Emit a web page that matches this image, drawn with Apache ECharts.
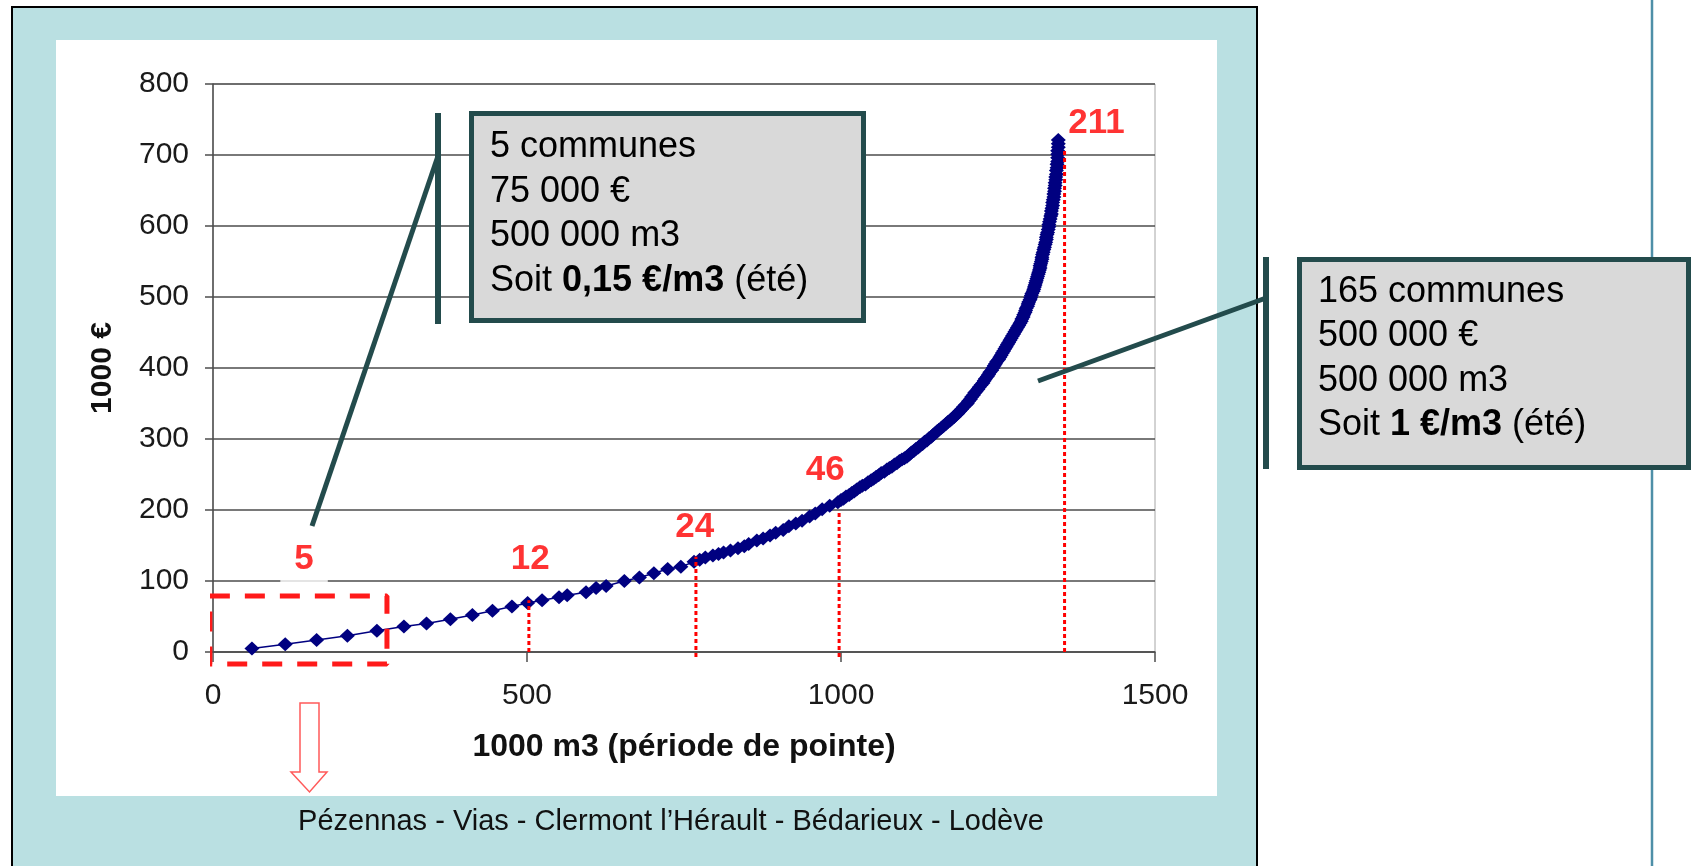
<!DOCTYPE html>
<html>
<head>
<meta charset="utf-8">
<title>Coût cumulé par commune</title>
<script src="https://cdn.jsdelivr.net/npm/echarts@6/dist/echarts.min.js"></script>
<style>
html, body { margin: 0; padding: 0; background: #fff; }
#chart { width: 1691px; height: 866px; }
</style>
</head>
<body>
<div id="chart"></div>
<script>
// cumulative volume (1000 m3, peak period) and cumulative cost (1000 €), one point per commune
var volume = [
  62, 115, 165, 214, 261, 304, 340, 378, 413, 445,
  476, 501, 524, 551, 564, 594, 610, 626, 655, 679,
  702, 724, 745, 766,
  775, 784, 796, 805, 813, 824, 836, 846, 853, 866,
  876, 887, 896, 908, 917, 928, 938, 950, 959, 970,
  982, 995,
  1000, 1004, 1008, 1013, 1017, 1021, 1025, 1030, 1034, 1039,
  1043, 1048, 1052, 1056, 1060, 1064, 1069, 1073, 1077, 1081,
  1085, 1089, 1093, 1097, 1101, 1105, 1109, 1112, 1116, 1119,
  1123, 1126, 1130, 1133, 1137, 1140, 1144, 1147, 1150, 1153,
  1156, 1160, 1163, 1167, 1170, 1174, 1177, 1180, 1183, 1186,
  1189, 1192, 1195, 1198, 1201, 1203, 1206, 1208, 1211, 1213,
  1215, 1218, 1220, 1223, 1226, 1228, 1230, 1233, 1235, 1237,
  1240, 1242, 1244, 1246, 1248, 1251, 1253, 1255, 1257, 1259,
  1261, 1263, 1265, 1267, 1269, 1271, 1273, 1275, 1277, 1279,
  1281, 1283, 1285, 1287, 1288, 1290, 1291, 1293, 1294, 1295,
  1297, 1298, 1299, 1301, 1302, 1303, 1304, 1306, 1307, 1308,
  1309, 1310, 1311, 1312, 1313, 1314, 1315, 1316, 1317, 1317,
  1318, 1319, 1320, 1320, 1321, 1322, 1323, 1324, 1325, 1326,
  1327, 1327, 1328, 1329, 1330, 1331, 1331, 1332, 1333, 1334,
  1335, 1335, 1336, 1337, 1337, 1338, 1339, 1339, 1340, 1340,
  1341, 1341, 1342, 1342, 1343, 1343, 1344, 1344, 1345, 1345,
  1345, 1345, 1346, 1346, 1346
];
var cost = [
  5, 11, 17, 23, 30, 36, 40, 46, 52, 58,
  64, 69, 73, 77, 80, 84, 90, 93, 100, 105,
  111, 117, 120, 127,
  130, 133, 136, 138, 140, 143, 146, 149, 152, 157,
  160, 164, 168, 172, 177, 181, 185, 191, 195, 201,
  206, 211,
  214, 216, 219, 221, 224, 226, 229, 232, 234, 236,
  239, 242, 244, 247, 249, 252, 254, 257, 259, 261,
  264, 266, 269, 271, 273, 275, 278, 281, 283, 286,
  288, 291, 293, 296, 298, 301, 303, 306, 308, 311,
  313, 316, 318, 321, 324, 326, 329, 331, 334, 336,
  339, 342, 345, 348, 350, 353, 356, 359, 362, 365,
  367, 370, 373, 376, 379, 382, 385, 388, 391, 394,
  397, 400, 403, 406, 409, 412, 415, 418, 421, 424,
  427, 430, 433, 436, 439, 442, 445, 448, 451, 454,
  457, 460, 463, 466, 469, 472, 475, 478, 481, 484,
  487, 490, 493, 496, 499, 502, 505, 508, 511, 514,
  517, 520, 523, 526, 529, 532, 535, 538, 541, 544,
  547, 550, 553, 556, 560, 563, 567, 570, 574, 577,
  581, 584, 588, 591, 595, 599, 602, 606, 610, 614,
  617, 621, 625, 629, 633, 637, 641, 645, 649, 653,
  657, 661, 665, 669, 673, 678, 682, 687, 691, 696,
  701, 706, 711, 716, 721
];

// red commune counts and their dotted drop lines
var countNames = ['5', '12', '24', '46', '211'];
var countX = [145, 505, 767, 975, 1407];
var countY = [131, 131, 175, 256, 744];
var dropX = [503, 769, 997, 1356];
var dropTop = [73, 134, 200, 706];
var dropBottom = [0, -7, -7, 0];

// dashed frame round the first five communes
var frameX = [-5, 277];
var frameY = [79, -17];

var leftBox = ['5 communes', '75 000 €', '500 000 m3', 'Soit {b|0,15 €/m3} (été)'];
var rightBox = ['165 communes', '500 000 €', '500 000 m3', 'Soit {b|1 €/m3} (été)'];
var townList = 'Pézennas - Vias - Clermont l’Hérault - Bédarieux - Lodève';

var FONT = "'Liberation Sans', Arial, sans-serif";
var TEAL = '#234b4c';

var chart = echarts.init(document.getElementById('chart'));

var curve = [];
for (var i = 0; i < volume.length; i++) {
    curve.push([volume[i], cost[i]]);
}

var series = [{
    type: 'line',
    data: curve,
    symbol: 'diamond',
    symbolSize: [15, 14],
    lineStyle: {color: '#000080', width: 1.5},
    itemStyle: {color: '#000080'},
    clip: false,
    silent: true,
    z: 3
}];

for (var j = 0; j < dropX.length; j++) {
    series.push({
        type: 'line',
        data: [[dropX[j], dropBottom[j]], [dropX[j], dropTop[j]]],
        symbol: 'none',
        lineStyle: {color: '#ff0000', width: 3, type: [4, 3]},
        clip: false,
        silent: true,
        z: 4
    });
}

series.push({
    type: 'line',
    data: [[frameX[0], frameY[0]], [frameX[1], frameY[0]], [frameX[1], frameY[1]],
           [frameX[0], frameY[1]], [frameX[0], frameY[0]]],
    symbol: 'none',
    lineStyle: {color: '#ff1a1a', width: 5, type: [20, 15]},
    clip: false,
    silent: true,
    z: 4
});

var countData = [];
for (var k = 0; k < countNames.length; k++) {
    var item = {value: [countX[k], countY[k], countNames[k]]};
    if (k == 0)
        item.label = {backgroundColor: '#fff', padding: [6, 14, 12, 14]};
    countData.push(item);
}
series.push({
    type: 'scatter',
    data: countData,
    symbolSize: 1,
    itemStyle: {color: 'rgba(0,0,0,0)'},
    label: {
        show: true,
        position: 'inside',
        formatter: function (p) { return p.value[2]; },
        color: '#ff0000',
        fontFamily: FONT,
        fontWeight: 'bold',
        fontSize: 35
    },
    clip: false,
    silent: true,
    z: 6
});

function boxText(lines, x, y0, step) {
    var out = [];
    for (var i = 0; i < lines.length; i++) {
        out.push({
            type: 'text', x: x, y: y0 + step * i, z: 102,
            style: {
                text: lines[i], fill: '#000', fontFamily: FONT, fontSize: 36,
                verticalAlign: 'middle', align: 'left',
                rich: {b: {fontFamily: FONT, fontSize: 36, fontWeight: 'bold', fill: '#000'}}
            }
        });
    }
    return out;
}

var graphics = [
    {type: 'rect', z: -20, shape: {x: 12, y: 7, width: 1245, height: 900},
     style: {fill: '#bae0e2', stroke: '#000', lineWidth: 2}},
    {type: 'rect', z: -19, shape: {x: 56, y: 40, width: 1161, height: 756},
     style: {fill: '#fff'}},
    {type: 'line', z: -19, shape: {x1: 1652, y1: 0, x2: 1652, y2: 866},
     style: {stroke: '#4e8fa8', lineWidth: 2.5}},
    // left call-out
    {type: 'line', z: 100, shape: {x1: 438, y1: 113, x2: 438, y2: 324},
     style: {stroke: TEAL, lineWidth: 6}},
    {type: 'line', z: 100, shape: {x1: 438, y1: 156, x2: 312, y2: 526},
     style: {stroke: TEAL, lineWidth: 5}},
    {type: 'rect', z: 101, shape: {x: 471.5, y: 113.5, width: 392, height: 207},
     style: {fill: '#d9d9d9', stroke: TEAL, lineWidth: 5}},
    // right call-out
    {type: 'line', z: 100, shape: {x1: 1266, y1: 257, x2: 1266, y2: 469},
     style: {stroke: TEAL, lineWidth: 6}},
    {type: 'line', z: 100, shape: {x1: 1266, y1: 298, x2: 1038, y2: 381},
     style: {stroke: TEAL, lineWidth: 5}},
    {type: 'rect', z: 101, shape: {x: 1299.5, y: 259.5, width: 389, height: 208},
     style: {fill: '#d9d9d9', stroke: TEAL, lineWidth: 5}},
    // hollow arrow down to the town names
    {type: 'polygon', z: 100,
     shape: {points: [[300, 703], [319, 703], [319, 772], [327, 772], [309.5, 792], [291, 772], [300, 772]]},
     style: {fill: '#fff', stroke: '#ff5a5a', lineWidth: 1.5}},
    {type: 'text', x: 671, y: 822, z: 100,
     style: {text: townList, fill: '#111', fontFamily: FONT, fontSize: 29,
             align: 'center', verticalAlign: 'middle'}}
].concat(boxText(leftBox, 490, 147, 44.7), boxText(rightBox, 1318, 292, 44.4));

var option = {
    animation: false,
    backgroundColor: '#fff',
    grid: {
        left: 213, right: 536, top: 84, bottom: 214,
        show: true, borderColor: '#a6a6a6', borderWidth: 1, backgroundColor: 'transparent'
    },
    xAxis: {
        type: 'value', min: 0, max: 1500, interval: 500,
        name: '1000 m3 (période de pointe)',
        nameLocation: 'middle', nameGap: 79,
        nameTextStyle: {fontFamily: FONT, fontSize: 32, fontWeight: 'bold', color: '#111'},
        axisLine: {onZero: false, lineStyle: {color: '#4d4d4d', width: 1.5}},
        axisTick: {show: true, length: 10, lineStyle: {color: '#4d4d4d', width: 1.5}},
        axisLabel: {margin: 29, fontFamily: FONT, fontSize: 30, color: '#1a1a1a',
                    formatter: function (v) { return String(v); }},
        splitLine: {show: false}
    },
    yAxis: {
        type: 'value', min: 0, max: 800, interval: 100,
        name: '1000 €', nameLocation: 'middle', nameGap: 95, nameRotate: 90,
        nameTextStyle: {fontFamily: FONT, fontSize: 30, fontWeight: 'bold', color: '#111'},
        axisLine: {show: true, lineStyle: {color: '#4d4d4d', width: 1.5}},
        axisTick: {show: true, length: 8, lineStyle: {color: '#4d4d4d', width: 1.5}},
        axisLabel: {margin: 24, fontFamily: FONT, fontSize: 30, color: '#1a1a1a',
                    formatter: function (v) { return String(v); }},
        splitLine: {lineStyle: {color: '#4d4d4d', width: 1.5}}
    },
    graphic: {elements: graphics},
    series: series
};

chart.setOption(option);
</script>
</body>
</html>
